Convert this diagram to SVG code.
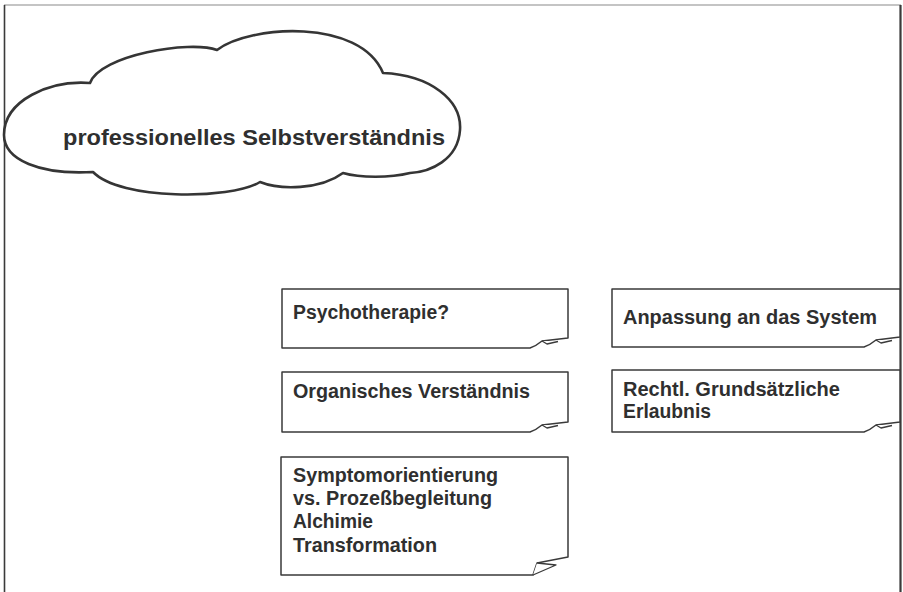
<svg xmlns="http://www.w3.org/2000/svg" width="903" height="592" viewBox="0 0 903 592">
<style>
.bg{fill:#ffffff}
.frame{fill:none;stroke:#3a3a3a;stroke-width:1.6}
.frameTop{fill:none;stroke:#8a8a8a;stroke-width:1.2}
.cloud{fill:#ffffff;stroke:#353535;stroke-width:2.6;stroke-linejoin:round}
.card{fill:#ffffff;stroke:#3a3a3a;stroke-width:1.5;stroke-linejoin:round}
.fold{fill:#ffffff;stroke:#3a3a3a;stroke-width:1.3;stroke-linejoin:round}
text{font-family:"Liberation Sans",Arial,sans-serif;font-weight:bold;fill:#2f2f2f}
.t{font-size:20px}
.title{font-size:22px}
</style>
<rect class="bg" x="0" y="0" width="903" height="592"/>
<g id="frame">
<line class="frameTop" x1="4" y1="5" x2="901" y2="5"/>
<line class="frame" x1="4.5" y1="5" x2="4.5" y2="592"/>
<line class="frame" x1="900.5" y1="5" x2="900.5" y2="592" style="stroke-width:2.2"/>
</g>
<g id="cloud">
<path class="cloud" d="M4,135 C4,100 50,80 90,83 C100,55 190,40 217,50 C250,25 360,18 383,73 C430,75 462,100 460,130 C458,160 430,172 410,173 C390,178 360,178 343,173 C320,190 280,190 260,182 C230,200 120,200 93,172 C40,175 4,160 4,135 Z"/>
<text class="title" x="63" y="145" textLength="382" lengthAdjust="spacingAndGlyphs">professionelles Selbstverständnis</text>
</g>
<g id="card-psychotherapie">
<path class="card" d="M282,289 L568,289 L568,338 L542,341 Q536,346 530,348 L282,348 Z"/>
<path class="fold" d="M542,341 L547,344 L558,341.5"/>
<text class="t" x="293" y="319" textLength="156" lengthAdjust="spacingAndGlyphs">Psychotherapie?</text>
</g>
<g id="card-organisch">
<path class="card" d="M282,372 L568,372 L568,422 L542,425 Q536,430 530,432 L282,432 Z"/>
<path class="fold" d="M542,425 L547,428 L558,425.5"/>
<text class="t" x="293" y="398" textLength="237" lengthAdjust="spacingAndGlyphs">Organisches Verständnis</text>
</g>
<g id="card-symptom">
<path class="card" d="M281,457 L568,457 L568,557 L537,563 L533,575 L281,575 Z"/>
<path class="fold" d="M537,563 L556,565 L533,575"/>
<text class="t" x="293" y="482" textLength="205" lengthAdjust="spacingAndGlyphs">Symptomorientierung</text>
<text class="t" x="293" y="505" textLength="199" lengthAdjust="spacingAndGlyphs">vs. Prozeßbegleitung</text>
<text class="t" x="293" y="528" textLength="80" lengthAdjust="spacingAndGlyphs">Alchimie</text>
<text class="t" x="293" y="552" textLength="144" lengthAdjust="spacingAndGlyphs">Transformation</text>
</g>
<g id="card-anpassung">
<path class="card" d="M612,289 L900,289 L900,337 L876,340 Q870,345 864,347 L612,347 Z"/>
<path class="fold" d="M876,340 L881,343 L892,340.5"/>
<text class="t" x="623" y="324" textLength="254" lengthAdjust="spacingAndGlyphs">Anpassung an das System</text>
</g>
<g id="card-rechtl">
<path class="card" d="M612,370 L900,370 L900,422 L876,425 Q870,430 864,432 L612,432 Z"/>
<path class="fold" d="M876,425 L881,428 L892,425.5"/>
<text class="t" x="623" y="396" textLength="217" lengthAdjust="spacingAndGlyphs">Rechtl. Grundsätzliche</text>
<text class="t" x="623" y="418" textLength="88" lengthAdjust="spacingAndGlyphs">Erlaubnis</text>
</g>
<g id="connectors"></g>
</svg>
